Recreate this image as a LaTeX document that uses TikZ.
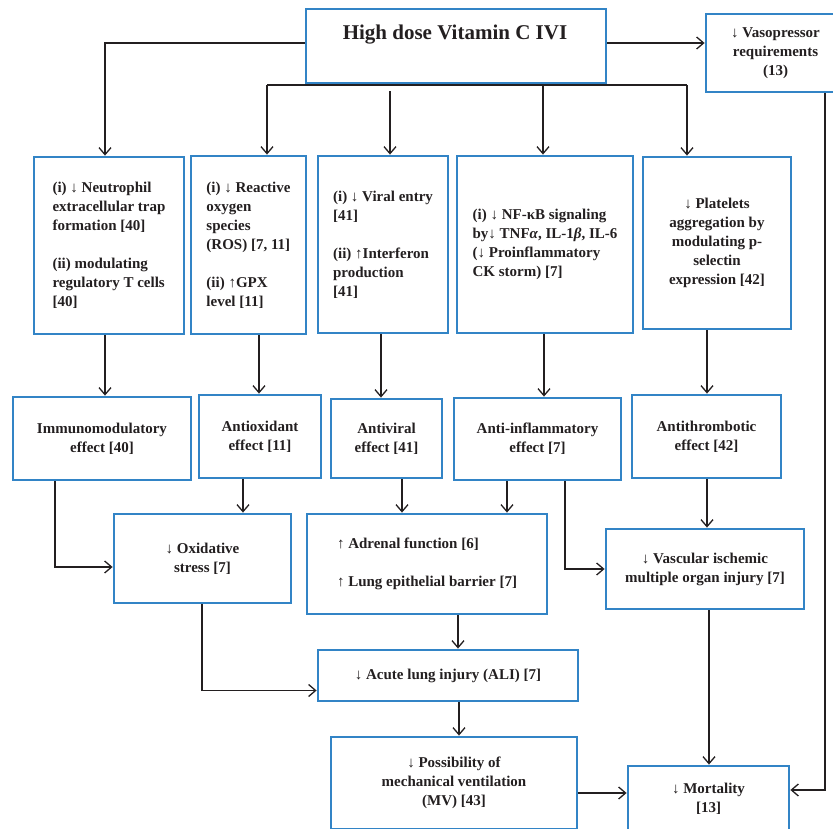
\documentclass[tikz,border=0pt]{standalone}
\usepackage{fontspec}
\setmainfont{Liberation Serif}
\usetikzlibrary{arrows.meta,calc}
\definecolor{boxblue}{RGB}{50,132,198}
\definecolor{linek}{RGB}{35,31,32}
\begin{document}
\begin{tikzpicture}[x=1pt,y=-1pt,
  box/.style={draw=boxblue, line width=2.8pt, inner sep=0pt, text=linek,
    font=\fontsize{15}{19}\selectfont\bfseries},
  conn/.style={draw=linek, line width=1.8pt},
  arr/.style={conn, -{Straight Barb[length=7pt,width=12pt,line width=1.3pt]}}]
\useasboundingbox (0,0) rectangle (833,829);

% top row
\node[box, minimum width=300pt, minimum height=74pt] (top) at (456,46) {};
\node[text=linek, font=\fontsize{21}{25}\selectfont\bfseries] (toptext) at (455,35) {High dose Vitamin C IVI};
\node[box, minimum width=139pt, minimum height=78pt, align=center] (vaso) at (775.5,53)
  {↓ Vasopressor\\requirements\\(13)};

% second row
\node[box, minimum width=150pt, minimum height=177pt, align=left] (A) at (109,245.5)
  {(i) ↓ Neutrophil\\extracellular trap\\formation [40]\\[19pt](ii) modulating\\regulatory T cells\\{[40]}};
\node[box, minimum width=115pt, minimum height=178pt, align=left] (B) at (248.5,245)
  {(i) ↓ Reactive\\oxygen\\species\\(ROS) [7, 11]\\[19pt](ii) ↑GPX\\level [11]};
\node[box, minimum width=130pt, minimum height=177pt, align=left] (C) at (383,244.5)
  {(i) ↓ Viral entry\\{[41]}\\[19pt](ii) ↑Interferon\\production\\{[41]}};
\node[box, minimum width=176pt, minimum height=177pt, align=left] (D) at (545,244.5)
  {(i) ↓ NF-κB signaling\\by↓ TNF\textit{α}, IL-1\textit{β}, IL-6\\(↓ Proinflammatory\\CK storm) [7]};
\node[box, minimum width=148pt, minimum height=172pt, align=center] (E) at (717,243)
  {↓ Platelets\\aggregation by\\modulating p-\\selectin\\expression [42]};

% third row
\node[box, minimum width=178pt, minimum height=83pt, align=center] (imm) at (102,438.5)
  {Immunomodulatory\\effect [40]};
\node[box, minimum width=122pt, minimum height=83pt, align=center] (antiox) at (260,436.5)
  {Antioxidant\\effect [11]};
\node[box, minimum width=111pt, minimum height=79pt, align=center] (viral) at (386.5,438.5)
  {Antiviral\\effect [41]};
\node[box, minimum width=167pt, minimum height=82pt, align=center] (infl) at (537.5,439)
  {Anti-inflammatory\\effect [7]};
\node[box, minimum width=149pt, minimum height=83pt, align=center] (thromb) at (706.5,436.5)
  {Antithrombotic\\effect [42]};

% fourth row
\node[box, minimum width=177pt, minimum height=89pt, align=center] (oxid) at (202.5,558.5)
  {↓ Oxidative\\stress [7]};
\node[box, minimum width=240pt, minimum height=100pt, align=left] (adr) at (427,564)
  {↑ Adrenal function [6]\\[19pt]↑ Lung epithelial barrier [7]};
\node[box, minimum width=198pt, minimum height=80pt, align=center] (vasc) at (705,569)
  {↓ Vascular ischemic\\multiple organ injury [7]};

% lower rows
\node[box, minimum width=260pt, minimum height=51pt] (ali) at (448,675.5)
  {↓ Acute lung injury (ALI) [7]};
\node[box, minimum width=246pt, minimum height=92pt, align=center] (mv) at (454,783)
  {↓ Possibility of\\mechanical ventilation\\(MV) [43]};
\node[box, minimum width=161pt, minimum height=66pt, align=center] (mort) at (708.5,799)
  {↓ Mortality\\{[13]}};

% connectors from the top box
\draw[arr] ($(top.west)+(0,-3)$) -| ($(A.north)+(-4,0)$);
\coordinate (tr) at ($(top.east)+(0,-3)$);
\draw[arr] (tr) -- (tr -| vaso.west);
\coordinate (busL) at ($(B.north |- top.south)+(18.5,1)$);
\coordinate (busR) at ($(E.north |- top.south)+(-30,1)$);
\draw[conn] (busL) -- (busR);
\draw[arr] (busL) -- ($(B.north)+(18.5,0)$);
\draw[arr] (busR) -- ($(E.north)+(-30,0)$);
\draw[arr] ($(D.north |- top.south)+(-2,1)$) -- ($(D.north)+(-2,0)$);
\draw[arr] ($(C.north |- top.south)+(7,7)$) -- ($(C.north)+(7,0)$);

% second row to third row
\draw[arr] ($(A.south)+(-4,0)$) -- ($(imm.north)+(3,0)$);
\draw[arr] ($(B.south)+(10.5,0)$) -- ($(antiox.north)+(-1,0)$);
\draw[arr] ($(C.south)+(-2,0)$) -- ($(viral.north)+(-5.5,0)$);
\draw[arr] ($(D.south)+(-1,0)$) -- ($(infl.north)+(6.5,0)$);
\draw[arr] ($(E.south)+(-10,0)$) -- ($(thromb.north)+(0.5,0)$);

% third row to fourth row
\draw[arr] ($(imm.south)+(-47,0)$) |- ($(oxid.west)+(0,8.5)$);
\draw[arr] ($(antiox.south)+(-17,0)$) -- ($(oxid.north)+(40.5,0)$);
\draw[arr] ($(viral.south)+(15.5,0)$) -- ($(adr.north)+(-25,0)$);
\draw[arr] ($(infl.south)+(-30.5,0)$) -- ($(adr.north)+(80,0)$);
\draw[arr] ($(infl.south)+(27.5,0)$) |- (vasc.west);
\draw[arr] ($(thromb.south)+(0.5,0)$) -- ($(vasc.north)+(2,0)$);

% lower connectors
\draw[arr] ($(oxid.south)+(-0.5,0)$) |- ($(ali.west)+(0,15)$);
\draw[arr] ($(adr.south)+(31,0)$) -- ($(ali.north)+(10,0)$);
\draw[arr] ($(ali.south)+(11,0)$) -- ($(mv.north)+(5,0)$);
\draw[arr] ($(mv.east)+(0,10)$) -- ($(mort.west)+(0,-6)$);
\draw[arr] ($(vasc.south)+(4,0)$) -- ($(mort.north)+(0.5,0)$);
\draw[arr] ($(vaso.south)+(49.5,0)$) |- ($(mort.east)+(0,-9)$);
\end{tikzpicture}
\end{document}
